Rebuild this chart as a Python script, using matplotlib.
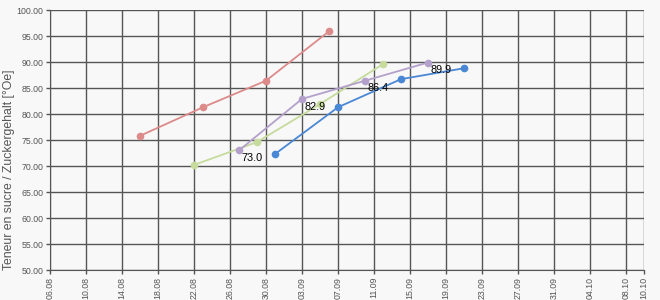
import matplotlib.pyplot as plt
import numpy as np

# days counted from 06.08 (axis start)
tick_days = [0, 4, 8, 12, 16, 20, 24, 28, 32, 36, 40, 44, 48, 52, 56, 60, 64, 66]
tick_labels = ["06.08", "10.08", "14.08", "18.08", "22.08", "26.08", "30.08", "03.09",
               "07.09", "11.09", "15.09", "19.09", "23.09", "27.09", "31.09", "04.10",
               "08.10", "10.10"]

red_days = [10, 17, 24, 31]
red_vals = [75.8, 81.3, 86.4, 95.9]

green_days = [16, 23, 30, 37]
green_vals = [70.2, 74.6, 81.9, 89.6]

purple_days = [21, 28, 35, 42]
purple_vals = [73.0, 82.9, 86.4, 89.9]

blue_days = [25, 32, 39, 46]
blue_vals = [72.3, 81.3, 86.7, 88.8]

bg = '#f8f8f8'
fig = plt.figure(figsize=(6.6, 3.0), dpi=100, facecolor=bg)
ax = fig.add_axes([50/660, 30/300, 594/660, 260/300], facecolor=bg)

series = [(red_days, red_vals, '#dc8a8a'),
          (green_days, green_vals, '#c6db9c'),
          (purple_days, purple_vals, '#b3a0cb'),
          (blue_days, blue_vals, '#4a87d4')]
for d, v, c in series:
    ax.plot(d, v, '-o', color=c, lw=1.3, ms=4.5, zorder=3)

# value labels on the purple series
for d, v in zip(purple_days, purple_vals):
    ax.annotate(f"{v:.1f}", (d, v), xytext=(2, -2), textcoords='offset points',
                ha='left', va='top', fontsize=7.8, color='black',
                family='Liberation Sans', zorder=4)

ax.set_xlim(0, 66)
ax.set_ylim(50, 100)
ax.set_xticks(tick_days)
ax.set_xticklabels(tick_labels, rotation=90, fontsize=6.3, color='#555555',
                   family='Liberation Sans')
yt = np.arange(50, 101, 5)
ax.set_yticks(yt)
ax.set_yticklabels([f"{t:.2f}" for t in yt], fontsize=6.3, color='#555555',
                   family='Liberation Sans')
ax.tick_params(length=3, width=1, color='#555555', pad=2)
ax.grid(True, color='#555555', lw=1)
ax.set_axisbelow(True)
for s in ['top', 'right']:
    ax.spines[s].set_visible(False)
for s in ['left', 'bottom']:
    ax.spines[s].set_color('#555555')

ax.set_ylabel("Teneur en sucre / Zuckergehalt [°Oe]", loc='bottom', fontsize=8.8,
              color='#555555', family='Liberation Sans', labelpad=1)

fig.savefig('out.png', dpi=100, facecolor=bg)
